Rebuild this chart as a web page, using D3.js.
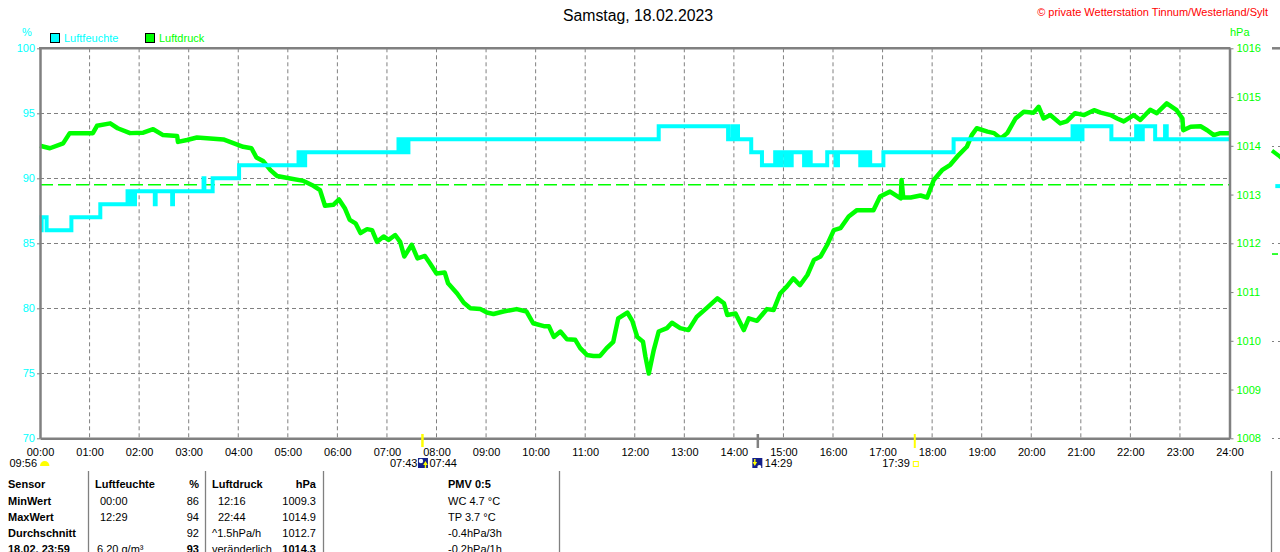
<!DOCTYPE html>
<html><head><meta charset="utf-8">
<script src="https://cdn.jsdelivr.net/npm/d3@7"></script>
<style>body{margin:0;background:#fff;overflow:hidden} svg{display:block;font-family:"Liberation Sans",Arial,sans-serif;}</style>
</head><body><svg id="c" width="1280" height="552"></svg>
<script>
// ---------- data ----------
const title = "Samstag, 18.02.2023";
const copyright = "\u00A9 private Wetterstation Tinnum/Westerland/Sylt";
const hourLabels = ["00:00","01:00","02:00","03:00","04:00","05:00","06:00","07:00","08:00","09:00","10:00","11:00","12:00","13:00","14:00","15:00","16:00","17:00","18:00","19:00","20:00","21:00","22:00","23:00","24:00"];
const humTicks = [70,75,80,85,90,95,100];
const presTicks = [1008,1009,1010,1011,1012,1013,1014,1015,1016];
const seriesNames = ["Luftfeuchte","Luftdruck"];

const humMinutes = [0,2,8,38,73,106,108,110,113,115,139,140,160,161,198,199,209,241,313,315,317,319,321,434,436,438,440,442,444,446,749,833,838,842,844,845,861,874,890,892,894,896,898,903,905,908,910,925,927,929,931,933,953,963,966,993,995,999,1001,1005,1021,1106,1250,1252,1254,1256,1258,1260,1262,1297,1327,1329,1331,1333,1335,1350,1362,1364,1440];
const humValues  = [86,87,86,87,88,89,88,89,88,89,88,89,88,89,90,89,90,91,92,91,92,91,92,93,92,93,92,93,92,93,94,93,94,93,94,93,92,91,92,91,92,91,92,91,92,91,92,91,92,91,92,91,92,91,92,91,92,91,92,91,92,93,94,93,94,93,94,93,94,93,94,93,94,93,94,93,94,93,93];

const presMinutes = [0,12,28,36,48,64,69,85,94,109,125,137,149,166,167,178,190,206,222,230,246,256,262,270,279,287,303,319,331,339,345,355,362,369,375,382,388,396,402,408,416,422,430,436,441,450,457,466,472,480,490,494,505,513,521,533,541,549,561,577,589,597,610,616,622,630,638,648,654,662,670,678,686,694,700,711,717,723,730,733,737,743,749,759,765,775,785,795,807,820,828,832,842,852,858,868,880,888,896,904,912,920,929,937,945,953,961,969,979,989,1001,1009,1017,1029,1042,1043,1045,1054,1066,1074,1082,1092,1102,1112,1122,1128,1134,1147,1155,1163,1171,1181,1191,1203,1209,1215,1223,1235,1243,1253,1264,1276,1284,1296,1304,1312,1324,1332,1344,1352,1364,1376,1383,1384,1393,1405,1413,1421,1429,1440];
const presValues  = [1014.00,1013.95,1014.05,1014.26,1014.26,1014.26,1014.41,1014.46,1014.36,1014.26,1014.27,1014.34,1014.22,1014.20,1014.08,1014.12,1014.17,1014.15,1014.13,1014.08,1013.98,1013.95,1013.76,1013.69,1013.50,1013.38,1013.33,1013.28,1013.18,1013.09,1012.77,1012.79,1012.90,1012.72,1012.48,1012.41,1012.21,1012.29,1012.27,1012.03,1012.14,1012.07,1012.17,1012.03,1011.73,1011.97,1011.69,1011.74,1011.59,1011.38,1011.40,1011.18,1010.97,1010.78,1010.67,1010.65,1010.58,1010.55,1010.60,1010.65,1010.60,1010.36,1010.30,1010.30,1010.08,1010.19,1010.03,1010.02,1009.85,1009.71,1009.69,1009.69,1009.85,1009.98,1010.46,1010.58,1010.41,1010.08,1009.98,1009.67,1009.33,1009.81,1010.19,1010.26,1010.37,1010.26,1010.22,1010.49,1010.67,1010.87,1010.77,1010.53,1010.56,1010.22,1010.46,1010.41,1010.65,1010.63,1010.97,1011.11,1011.28,1011.14,1011.35,1011.66,1011.73,1011.97,1012.27,1012.31,1012.55,1012.68,1012.68,1012.68,1012.96,1013.06,1012.92,1013.30,1012.94,1012.94,1012.98,1012.94,1013.30,1013.50,1013.61,1013.81,1013.98,1014.22,1014.36,1014.29,1014.26,1014.15,1014.26,1014.56,1014.70,1014.68,1014.80,1014.56,1014.63,1014.46,1014.50,1014.67,1014.63,1014.73,1014.68,1014.63,1014.56,1014.50,1014.63,1014.53,1014.74,1014.67,1014.87,1014.73,1014.56,1014.32,1014.39,1014.40,1014.32,1014.22,1014.26,1014.26];
const presReference = 1013.2;

// partial next panel visible at the right edge
const nextGrid = [1014,1012,1010,1008];
const nextPresMinutes = [0,8,16];
const nextPresValues = [1013.9,1013.8,1013.68];
const nextHumMinutes = [4,16];
const nextHumValues = [89.4,89.4];
const nextReference = 1011.78;

// astronomical markers
const sunriseLabel = ["07:43","07:44"]; const sunriseMin = 463;
const moonLabel = "14:29"; const moonMin = 869;
const sunsetLabel = "17:39"; const sunsetMin = 1059;
const moonriseLabel = "09:56";

// table
const tableCol1 = ["Sensor","MinWert","MaxWert","Durchschnitt","18.02. 23:59"];
const tableCol2 = ["Luftfeuchte","00:00","12:29","","6.20 g/m\u00B3"];
const tableCol3 = ["%","86","94","92","93"];
const tableCol4 = ["Luftdruck","12:16","22:44","^1.5hPa/h","ver\u00E4nderlich"];
const tableCol5 = ["hPa","1009.3","1014.9","1012.7","1014.3"];
const tableCol6 = ["PMV 0:5","WC 4.7 \u00B0C","TP 3.7 \u00B0C","-0.4hPa/3h","-0.2hPa/1h"];

// ---------- drawing ----------
const CYAN="#00ffff", GREEN="#00ff00", GRAY="#808080";
const svg = d3.select("#c");
const L=40, R=1229.5, T=48.3, B=438.3;
const x = d3.scaleLinear().domain([0,1440]).range([L,R]);
const yH = d3.scaleLinear().domain([70,100]).range([B,T]);
const yP = d3.scaleLinear().domain([1008,1016]).range([B,T]);
const xNext = d3.scaleLinear().domain([0,1440]).range([1272,1272+(R-L)]);

// grid
const g = svg.append("g");
g.selectAll(".vg").data(d3.range(1,24)).join("line")
  .attr("x1",d=>x(d*60)).attr("x2",d=>x(d*60)).attr("y1",T).attr("y2",B)
  .attr("stroke",GRAY).attr("stroke-width",1).attr("stroke-dasharray","4,3");
g.selectAll(".hg").data(humTicks.slice(1,-1)).join("line")
  .attr("x1",L).attr("x2",R).attr("y1",d=>Math.round(yH(d))+0.5).attr("y2",d=>Math.round(yH(d))+0.5)
  .attr("stroke",GRAY).attr("stroke-width",1).attr("stroke-dasharray","4,3");

// reference dashed line
svg.append("line").attr("x1",L).attr("x2",R).attr("y1",yP(presReference)).attr("y2",yP(presReference))
  .attr("stroke",GREEN).attr("stroke-width",1.6).attr("stroke-dasharray","13,5");

// next panel partial
const ng = svg.append("g");
ng.selectAll("line.g").data(nextGrid).join("line")
  .attr("x1",1272).attr("x2",1280).attr("y1",d=>Math.round(yP(d))+0.5).attr("y2",d=>Math.round(yP(d))+0.5)
  .attr("stroke",GRAY).attr("stroke-dasharray","2,4");
ng.append("line").attr("x1",1272).attr("x2",1280).attr("y1",T).attr("y2",T).attr("stroke",GRAY).attr("stroke-width",2.5);
ng.append("line").attr("x1",1272).attr("x2",1278).attr("y1",yP(nextReference)).attr("y2",yP(nextReference)).attr("stroke",GREEN).attr("stroke-width",1.6);
ng.append("path").datum(d3.zip(nextPresMinutes,nextPresValues))
  .attr("d",d3.line().x(d=>xNext(d[0])).y(d=>yP(d[1]))).attr("fill","none").attr("stroke",GREEN).attr("stroke-width",4);
ng.append("path").datum(d3.zip(nextHumMinutes,nextHumValues))
  .attr("d",d3.line().x(d=>xNext(d[0])).y(d=>yH(d[1]))).attr("fill","none").attr("stroke",CYAN).attr("stroke-width",4);

// pressure line
svg.append("path").datum(d3.zip(presMinutes,presValues))
  .attr("d",d3.line().x(d=>x(d[0])).y(d=>yP(d[1])))
  .attr("fill","none").attr("stroke",GREEN).attr("stroke-width",4.5).attr("stroke-linejoin","round");
// humidity line
svg.append("path").datum(d3.zip(humMinutes,humValues))
  .attr("d",d3.line().curve(d3.curveStepAfter).x(d=>x(d[0])).y(d=>yH(d[1])))
  .attr("fill","none").attr("stroke",CYAN).attr("stroke-width",4);

// axes
function styleAxis(sel,color){
  sel.select(".domain").attr("stroke",GRAY).attr("stroke-width",2.5);
  sel.selectAll(".tick line").attr("stroke",GRAY).attr("stroke-width",1);
  sel.selectAll("text").attr("fill",color).style("font-size","11px").style("font-family",'"Liberation Sans",Arial,sans-serif');
}
const ax1 = svg.append("g").attr("transform",`translate(${L},0)`)
  .call(d3.axisLeft(yH).tickValues(humTicks).tickFormat(d3.format("d")).tickSize(3).tickSizeOuter(0).tickPadding(2));
styleAxis(ax1,CYAN);
const ax2 = svg.append("g").attr("transform",`translate(${R},0)`)
  .call(d3.axisRight(yP).tickValues(presTicks).tickFormat(d3.format("d")).tickSize(4).tickSizeOuter(0).tickPadding(3));
styleAxis(ax2,GREEN);
const ax3 = svg.append("g").attr("transform",`translate(0,${B})`)
  .call(d3.axisBottom(x).tickValues(d3.range(0,25).map(h=>h*60)).tickFormat((d,i)=>hourLabels[i]).tickSize(0).tickSizeOuter(0).tickPadding(10));
styleAxis(ax3,"#000");
svg.append("line").attr("x1",L-1).attr("x2",R+1).attr("y1",T).attr("y2",T).attr("stroke",GRAY).attr("stroke-width",2.5);

// header
svg.append("text").attr("x",638).attr("y",21).attr("text-anchor","middle").style("font-size","15.8px").attr("fill","#000").text(title);
svg.append("text").attr("x",1268).attr("y",16).attr("text-anchor","end").style("font-size","11px").attr("fill","#ff0000").text(copyright);
svg.append("text").attr("x",27).attr("y",36).attr("text-anchor","middle").style("font-size","11px").attr("fill",CYAN).text("%");
svg.append("text").attr("x",1230).attr("y",36).style("font-size","11px").attr("fill",GREEN).text("hPa");
// legend
const legend = svg.append("g");
[[50,CYAN],[145,GREEN]].forEach((p,i)=>{
  legend.append("rect").attr("x",p[0]+0.5).attr("y",33.5).attr("width",9).attr("height",9).attr("fill",p[1]).attr("stroke","#000");
  legend.append("text").attr("x",p[0]+14).attr("y",42).style("font-size","11px").attr("fill",p[1]).text(seriesNames[i]);
});

// markers on x axis
svg.append("line").attr("x1",x(sunriseMin)).attr("x2",x(sunriseMin)).attr("y1",434).attr("y2",447).attr("stroke","#ffff00").attr("stroke-width",2.5);
svg.append("line").attr("x1",x(moonMin)).attr("x2",x(moonMin)).attr("y1",434).attr("y2",448).attr("stroke",GRAY).attr("stroke-width",2.5);
svg.append("line").attr("x1",x(sunsetMin)).attr("x2",x(sunsetMin)).attr("y1",434).attr("y2",448).attr("stroke","#ffff00").attr("stroke-width",2);

const lab = svg.append("g").style("font-size","11px").attr("fill","#000");
lab.append("text").attr("x",37).attr("y",467).attr("text-anchor","end").text(moonriseLabel);
svg.append("path").attr("d","M40,466 A4.7,5 0 0 1 49.4,466 Z").attr("fill","#ffff00");
// sunrise icon
const sx = x(sunriseMin);
lab.append("text").attr("x",sx-5).attr("y",467).attr("text-anchor","end").text(sunriseLabel[0]);
lab.append("text").attr("x",sx+7).attr("y",467).text(sunriseLabel[1]);
svg.append("rect").attr("x",sx-4.5).attr("y",458).attr("width",10).attr("height",10).attr("fill","#14208a");
svg.append("circle").attr("cx",sx-1.5).attr("cy",461).attr("r",2.2).attr("fill","#fff");
svg.append("path").attr("d",`M${sx+3},461 L${sx+5.3},465 L${sx+3.7},465 L${sx+3.7},468 L${sx+2.3},468 L${sx+2.3},465 L${sx+0.7},465 Z`).attr("fill","#ffff00");
// moon icon
const mx = x(moonMin);
lab.append("text").attr("x",mx+7).attr("y",467).text(moonLabel);
svg.append("rect").attr("x",mx-5.5).attr("y",458).attr("width",10).attr("height",10).attr("fill","#14208a");
svg.append("path").attr("d",`M${mx-3},466 L${mx-5.3},462 L${mx-3.7},462 L${mx-3.7},459 L${mx-2.3},459 L${mx-2.3},462 L${mx-0.7},462 Z`).attr("fill","#ffff00");
svg.append("circle").attr("cx",mx+1.5).attr("cy",467).attr("r",2).attr("fill","#fff");
// sunset
const ux = x(sunsetMin);
lab.append("text").attr("x",ux-5).attr("y",467).attr("text-anchor","end").text(sunsetLabel);
svg.append("rect").attr("x",ux-1.5).attr("y",461.5).attr("width",5).attr("height",5).attr("fill","none").attr("stroke","#ffff00");

// table separators
[88.5,205.5,323.5,559.5,1271.5].forEach(v=>{
  svg.append("line").attr("x1",v).attr("x2",v).attr("y1",471).attr("y2",552).attr("stroke",GRAY).attr("stroke-width",1.3);
});
const rowsY = [488,504.5,521,536.5,552.5];
const tbl = svg.append("g").style("font-size","11px").attr("fill","#000");
function col(arr,xp,anchor,boldIdx){
  arr.forEach((t,i)=>{
    if(!t) return;
    tbl.append("text").attr("x",xp).attr("y",rowsY[i]).attr("text-anchor",anchor)
      .style("font-weight",boldIdx.includes(i)?"bold":"normal").text(t);
  });
}
col(tableCol1,8,"start",[0,1,2,3,4]);
col(tableCol2.slice(0,1),95,"start",[0]);
col(["",tableCol2[1],tableCol2[2],"",""],100,"start",[]);
col(["","","","",tableCol2[4]],97,"start",[]);
col(tableCol3,199,"end",[0,4]);
col([tableCol4[0],"","",tableCol4[3],tableCol4[4]],212,"start",[0]);
col(["",tableCol4[1],tableCol4[2],"",""],218,"start",[]);
col(tableCol5,316,"end",[0,4]);
col(tableCol6,448,"start",[0]);
</script>
</body></html>
